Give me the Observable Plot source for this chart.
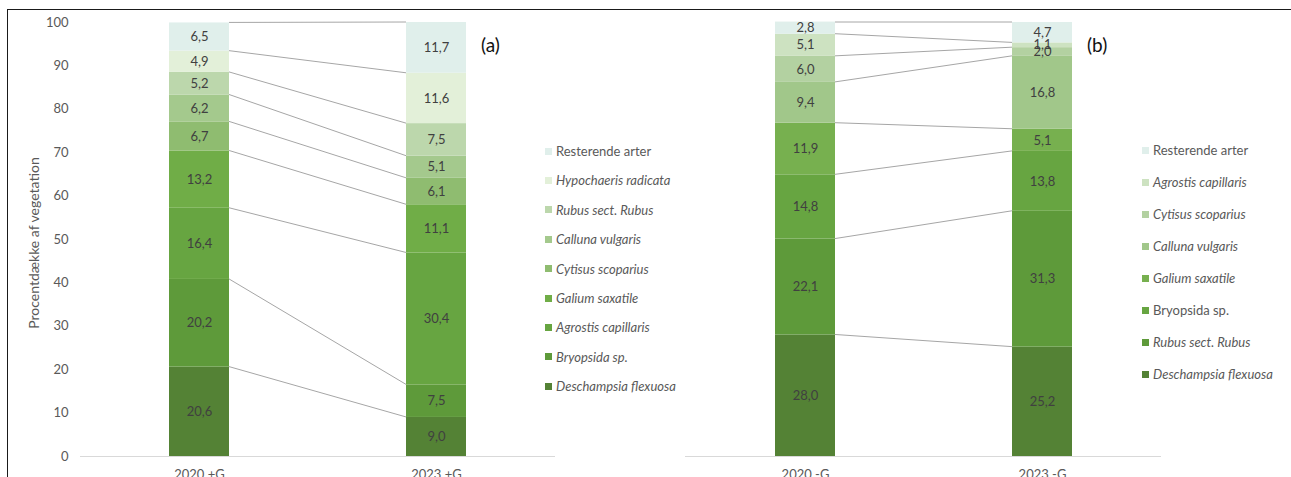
<!DOCTYPE html>
<html><head><meta charset="utf-8">
<script src="https://cdn.jsdelivr.net/npm/d3@7"></script>
<script src="https://cdn.jsdelivr.net/npm/@observablehq/plot@0.6"></script>
<style>
body{margin:0;background:#fff;font-family:Lato, "Open Sans", sans-serif;}
#root{position:relative;width:1291px;height:477px;overflow:hidden;}
#root svg{position:absolute;left:0;top:0;}
.frame{position:absolute;left:7px;top:9px;width:1300px;height:480px;border-left:1.5px solid #1a1a1a;border-top:1.5px solid #1a1a1a;}
.item{position:absolute;white-space:nowrap;display:flex;align-items:center;font-size:13px;color:#595959;height:16px;line-height:16px;}
.sw{width:7px;height:7px;margin-right:4px;flex:none;}
.tag{position:absolute;font-size:19px;color:#111;}
.ytitle{position:absolute;font-size:14px;color:#595959;white-space:nowrap;transform:translate(-50%,-50%) rotate(-90deg);}
</style></head><body><div id="root"><div class="frame"></div></div>
<script>
// ---- data ----
const speciesA = ["Deschampsia flexuosa","Bryopsida sp.","Agrostis capillaris","Galium saxatile","Cytisus scoparius","Calluna vulgaris","Rubus sect. Rubus","Hypochaeris radicata","Resterende arter"];
const colorsA = ["#548235","#5e9a3a","#67a541","#70ad47","#8fbc70","#a4c98d","#bcd7ac","#e3f0d9","#e0efeb"];
const barsA = ["2020 +G","2023 +G"];
const values2020A = [20.6,20.2,16.4,13.2,6.7,6.2,5.2,4.9,6.5];
const values2023A = [9.0,7.5,30.4,11.1,6.1,5.1,7.5,11.6,11.7];
const uprightA = ["Resterende arter"];

const speciesB = ["Deschampsia flexuosa","Rubus sect. Rubus","Bryopsida sp.","Galium saxatile","Calluna vulgaris","Cytisus scoparius","Agrostis capillaris","Resterende arter"];
const colorsB = ["#548235","#5e9a3a","#67a541","#77b04f","#a1c78a","#b3d1a1","#cde2c1","#e0efeb"];
const barsB = ["2020 -G","2023 -G"];
const values2020B = [28.0,22.1,14.8,11.9,9.4,6.0,5.1,2.8];
const values2023B = [25.2,31.3,13.8,5.1,16.8,2.0,1.1,4.7];
const uprightB = ["Resterende arter","Bryopsida sp."];

const yTicks = [0,10,20,30,40,50,60,70,80,90,100];
const yTitle = "Procentdække af vegetation";

const root = document.getElementById("root");
const fmt = v => v.toFixed(1).replace(".", ",");

function panel(cfg) {
  const data = [];
  cfg.species.forEach((s, i) => {
    data.push({bar: cfg.bars[0], species: s, value: cfg.v1[i]});
    data.push({bar: cfg.bars[1], species: s, value: cfg.v2[i]});
  });
  const chart = Plot.plot({
    width: 1291, height: 477,
    marginTop: 22, marginBottom: 21,
    marginLeft: cfg.ml, marginRight: 1291 - cfg.mr,
    style: {fontFamily: "Lato, 'Open Sans', sans-serif", fontSize: "13px", color: "#595959", background: "transparent", overflow: "visible"},
    x: {domain: cfg.bars, paddingInner: 0.747, paddingOuter: 0.375, label: null, tickSize: 0, tickPadding: 13},
    y: cfg.showY ? {domain: [0, 100], ticks: yTicks, tickSize: 0, tickPadding: 12, label: null}
                 : {domain: [0, 100], axis: null},
    color: {domain: cfg.species, range: cfg.colors},
    marks: [
      Plot.ruleY([0], {stroke: "#d9d9d9", strokeWidth: 1}),
      Plot.barY(data, {x: "bar", y: "value", fill: "species"}),
      Plot.text(data, Plot.stackY({x: "bar", y: "value", z: "species", text: d => fmt(d.value), fill: "#404040", fontSize: 13}))
    ]
  });
  const xs = chart.scale("x"), ys = chart.scale("y");
  const xa = xs.apply(cfg.bars[0]) + xs.bandwidth, xb = xs.apply(cfg.bars[1]);
  const g = d3.select(chart).append("g").attr("stroke", "#a6a6a6").attr("stroke-width", 1);
  let c1 = 0, c2 = 0;
  cfg.species.forEach((s, i) => {
    c1 += cfg.v1[i]; c2 += cfg.v2[i];
    g.append("line").attr("x1", xa).attr("x2", xb)
      .attr("y1", ys.apply(Math.min(c1, 100))).attr("y2", ys.apply(Math.min(c2, 100)));
  });
  root.appendChild(chart);

  // legend (top to bottom = reverse stack order)
  const items = cfg.species.map((s, i) => ({s, c: cfg.colors[i]})).reverse();
  items.forEach((it, k) => {
    const div = document.createElement("div");
    div.className = "item";
    div.style.left = cfg.legX + "px";
    div.style.top = (cfg.legY0 + k * cfg.legDy - 8) + "px";
    const sw = document.createElement("span");
    sw.className = "sw"; sw.style.background = it.c;
    const tx = document.createElement("span");
    tx.textContent = it.s;
    tx.style.fontStyle = cfg.upright.includes(it.s) ? "normal" : "italic";
    div.appendChild(sw); div.appendChild(tx);
    root.appendChild(div);
  });
  const tag = document.createElement("div");
  tag.className = "tag"; tag.textContent = cfg.tag;
  tag.style.left = cfg.tagX + "px"; tag.style.top = "33px";
  root.appendChild(tag);
}

panel({bars: barsA, species: speciesA, colors: colorsA, v1: values2020A, v2: values2023A, upright: uprightA,
       ml: 80, mr: 555, showY: true, legX: 545, legY0: 151, legDy: 29.4, tag: "(a)", tagX: 481});
panel({bars: barsB, species: speciesB, colors: colorsB, v1: values2020B, v2: values2023B, upright: uprightB,
       ml: 685, mr: 1161, showY: false, legX: 1142, legY0: 150, legDy: 32, tag: "(b)", tagX: 1087});

const yt = document.createElement("div");
yt.className = "ytitle"; yt.textContent = yTitle;
yt.style.left = "33px"; yt.style.top = "243px";
root.appendChild(yt);
</script></body></html>
